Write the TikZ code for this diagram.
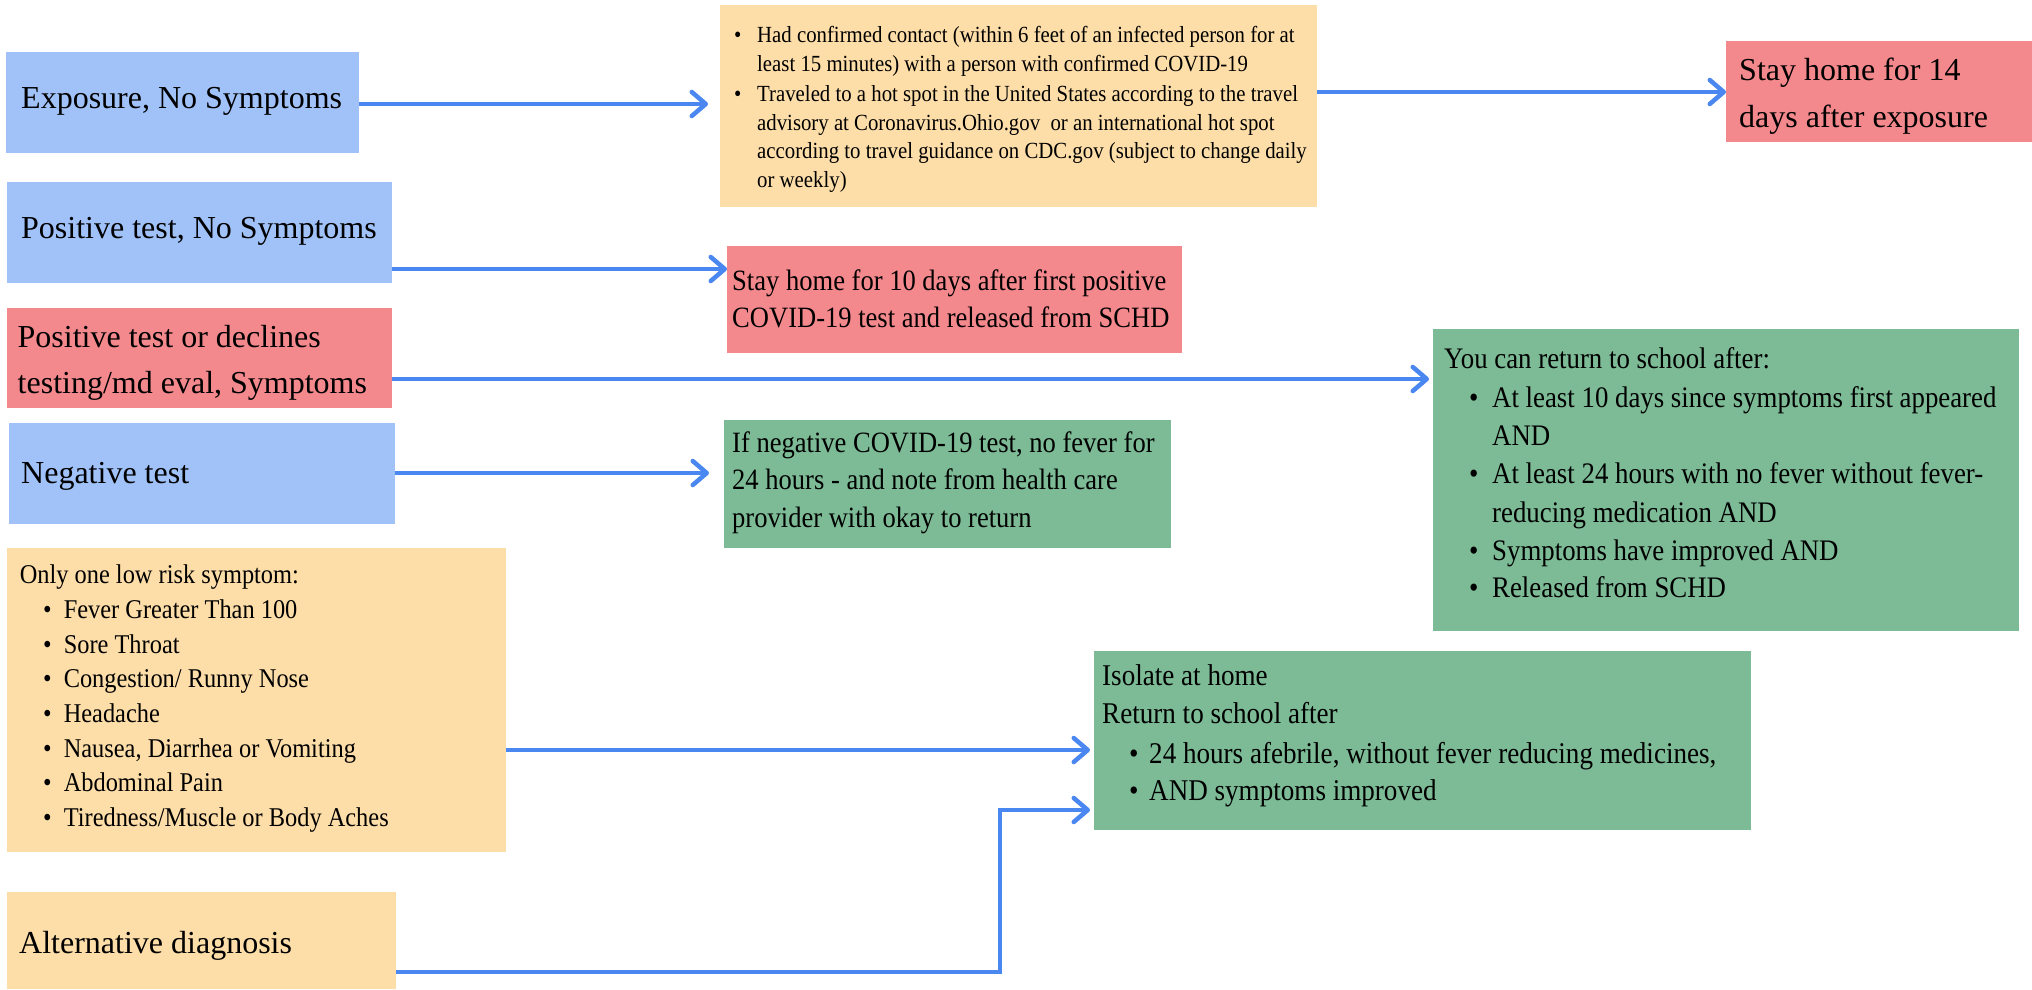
\documentclass[tikz,border=0pt]{standalone}
\usepackage{fontspec}
\setmainfont{Liberation Serif}
\newfontfamily\nar[FakeStretch=0.9]{Liberation Serif}
\usetikzlibrary{arrows.meta}
\definecolor{bluebox}{RGB}{160,194,249}
\definecolor{redbox}{RGB}{243,137,141}
\definecolor{orangebox}{RGB}{253,221,168}
\definecolor{greenbox}{RGB}{124,187,150}
\definecolor{arrowc}{RGB}{74,135,240}
\newcommand\bu[1]{\makebox[#1pt][l]{\textbullet}}
\begin{document}
\begin{tikzpicture}[x=1pt,y=-1pt,
  box/.style={rectangle, draw=none, inner sep=0pt, anchor=north west},
  arr/.style={draw=arrowc, line width=4.5pt,
    -{Straight Barb[length=14pt,width=24pt,line cap=round,line join=round]}},
  big/.style={anchor=base west, inner sep=0pt, font=\fontsize{32}{46}\selectfont},
  ot/.style={anchor=base west, inner sep=0pt, font=\nar\fontsize{23.1}{29}\selectfont},
  mt/.style={anchor=base west, inner sep=0pt, font=\nar\fontsize{29.5}{37}\selectfont},
  rt/.style={anchor=base west, inner sep=0pt, font=\nar\fontsize{29.8}{38}\selectfont},
  it/.style={anchor=base west, inner sep=0pt, font=\nar\fontsize{30.1}{38}\selectfont},
  lt/.style={anchor=base west, inner sep=0pt, font=\nar\fontsize{27.1}{35}\selectfont}]
\useasboundingbox (0,0) rectangle (2032,989);
\fill[white] (0,0) rectangle (2032,989);

% boxes
\node[box, fill=bluebox,   minimum width=353pt, minimum height=101pt] (expo) at (6,52) {};
\node[box, fill=bluebox,   minimum width=385pt, minimum height=101pt] (posns) at (7,182) {};
\node[box, fill=redbox,    minimum width=385pt, minimum height=100pt] (posdec) at (7,308) {};
\node[box, fill=bluebox,   minimum width=386pt, minimum height=101pt] (neg) at (9,423) {};
\node[box, fill=orangebox, minimum width=499pt, minimum height=304pt] (only) at (7,548) {};
\node[box, fill=orangebox, minimum width=389pt, minimum height=97pt] (alt) at (7,892) {};
\node[box, fill=orangebox, minimum width=597pt, minimum height=202pt] (contact) at (720,5) {};
\node[box, fill=redbox,    minimum width=306pt, minimum height=101pt] (stay14) at (1726,41) {};
\node[box, fill=redbox,    minimum width=455pt, minimum height=107pt] (stay10) at (727,246) {};
\node[box, fill=greenbox,  minimum width=447pt, minimum height=128pt] (neggreen) at (724,420) {};
\node[box, fill=greenbox,  minimum width=586pt, minimum height=302pt] (ret) at (1433,329) {};
\node[box, fill=greenbox,  minimum width=657pt, minimum height=179pt] (iso) at (1094,651) {};

% left labels
\node[big] (expoT) at (21,108) {Exposure, No Symptoms};
\node[big] (posnsT) at (21,238) {Positive test, No Symptoms};
\node[big] (posdecT1) at (17.5,347) {Positive test or declines};
\node[big] (posdecT2) at (17.5,393) {testing/md eval, Symptoms};
\node[big] (negT) at (21,483) {Negative test};
\node[big] (altT) at (19,953) {Alternative diagnosis};
\node[big] (s14a) at (1739,80) {Stay home for 14};
\node[big] (s14b) at (1739,127) {days after exposure};

% contact box
\node[ot] (c1) at (734,42) {\bu{23}Had confirmed contact (within 6 feet of an infected person for at};
\node[ot] (c2) at (757,71) {least 15 minutes) with a person with confirmed COVID-19};
\node[ot] (c3) at (734,101) {\bu{23}Traveled to a hot spot in the United States according to the travel};
\node[ot] (c4) at (757,130) {advisory at Coronavirus.Ohio.gov\ \ or an international hot spot};
\node[ot] (c5) at (757,158) {according to travel guidance on CDC.gov (subject to change daily};
\node[ot] (c6) at (757,187) {or weekly)};

% stay 10
\node[mt] (m1) at (732,290) {Stay home for 10 days after first positive};
\node[mt] (m2) at (732,327) {COVID-19 test and released from SCHD};

% negative green
\node[mt] (n1) at (732,452) {If negative COVID-19 test, no fever for};
\node[mt] (n2) at (732,489) {24 hours - and note from health care};
\node[mt] (n3) at (732,527) {provider with okay to return};

% return box
\node[rt] (r0) at (1444,368) {You can return to school after:};
\node[rt] (r1) at (1469,407) {\bu{23}At least 10 days since symptoms first appeared};
\node[rt] (r2) at (1492,445) {AND};
\node[rt] (r3) at (1469,483) {\bu{23}At least 24 hours with no fever without fever-};
\node[rt] (r4) at (1492,522) {reducing medication AND};
\node[rt] (r5) at (1469,560) {\bu{23}Symptoms have improved AND};
\node[rt] (r6) at (1469,597) {\bu{23}Released from SCHD};

% only one low risk symptom
\node[lt] (l0) at (19.6,583) {Only one low risk symptom:};
\node[lt] (l1) at (43,618) {\bu{20.6}Fever Greater Than 100};
\node[lt] (l2) at (43,653) {\bu{20.6}Sore Throat};
\node[lt] (l3) at (43,687) {\bu{20.6}Congestion/ Runny Nose};
\node[lt] (l4) at (43,722) {\bu{20.6}Headache};
\node[lt] (l5) at (43,757) {\bu{20.6}Nausea, Diarrhea or Vomiting};
\node[lt] (l6) at (43,791) {\bu{20.6}Abdominal Pain};
\node[lt] (l7) at (43,826) {\bu{20.6}Tiredness/Muscle or Body Aches};

% isolate box
\node[it] (i0) at (1102,685) {Isolate at home};
\node[it] (i1) at (1102,723) {Return to school after};
\node[it] (i2) at (1129,763) {\bu{20}24 hours afebrile, without fever reducing medicines,};
\node[it] (i3) at (1129,800) {\bu{20}AND symptoms improved};

% connectors
\draw[arr, shorten >=12pt] (expo.east |- 0,104) -- (contact.west |- 0,104);
\draw[arr] (contact.east |- 0,92) -- (stay14.west |- 0,92);
\draw[arr] (posns.east |- 0,269) -- (stay10.west |- 0,269);
\draw[arr, shorten >=4pt] (posdec.east |- 0,379) -- (ret.west |- 0,379);
\draw[arr, shorten >=15pt] (neg.east |- 0,473) -- (neggreen.west |- 0,473);
\draw[arr, shorten >=4pt] (only.east |- 0,750) -- (iso.west |- 0,750);
\coordinate (bend) at (1000,972);
\draw[arr, shorten >=4pt] (alt.east |- bend) -- (bend) |- (iso.west |- 0,810);
\end{tikzpicture}
\end{document}
